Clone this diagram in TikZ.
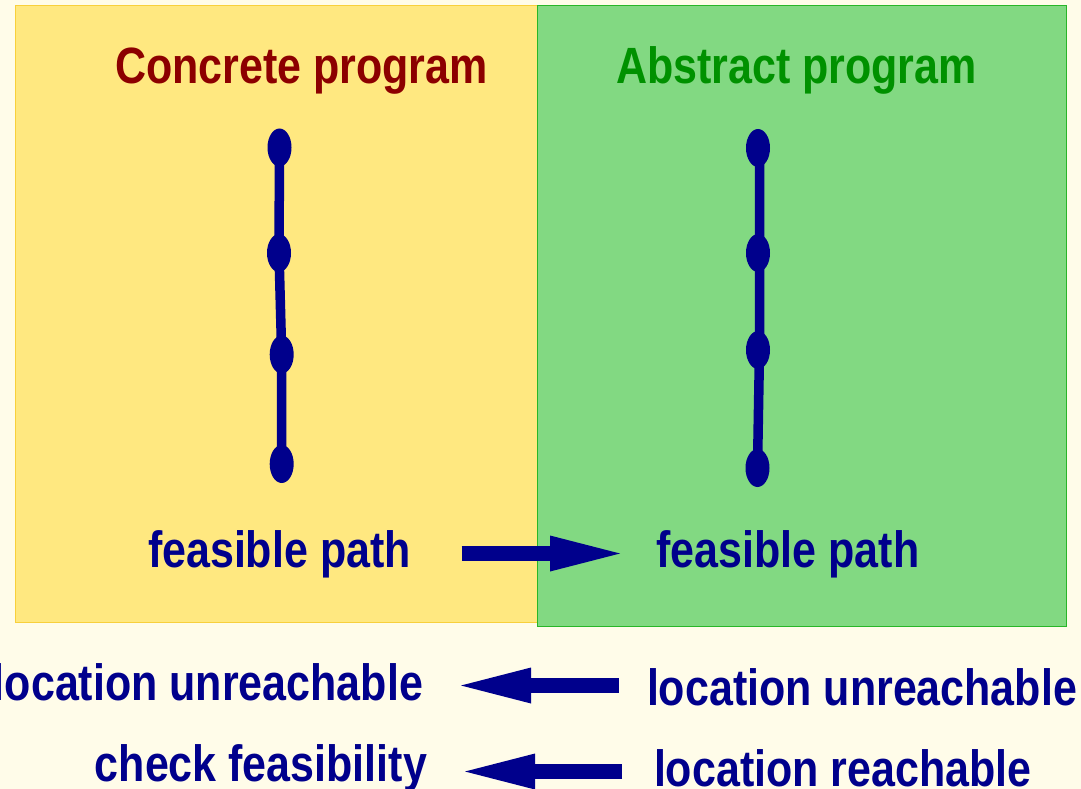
\documentclass[tikz,border=0pt]{standalone}
\usepackage{fontspec}
\newfontfamily\hv{Liberation Sans}[FakeStretch=0.843]
\usetikzlibrary{shapes.geometric,arrows.meta}
\definecolor{bgcream}{RGB}{255,252,233}
\definecolor{yfill}{RGB}{255,232,128}
\definecolor{yline}{RGB}{248,208,60}
\definecolor{gfill}{RGB}{130,217,130}
\definecolor{gline}{RGB}{40,182,40}
\definecolor{dred}{RGB}{140,0,0}
\definecolor{dgreen}{RGB}{0,145,0}
\definecolor{navy}{RGB}{0,0,140}
\begin{document}
\begin{tikzpicture}[x=1pt,y=-1pt,
  lbl/.style={inner sep=0pt, outer sep=0pt, font=\hv\bfseries\fontsize{51}{60}\selectfont},
  dot/.style={ellipse, fill=navy, minimum width=24pt, minimum height=38pt, inner sep=0pt},
  chainline/.style={draw=navy, line width=9.5pt},
  bigarrow/.style={navy, line width=15.5pt, -{Triangle[length=70pt,width=36pt,line width=0pt]}}]
\useasboundingbox (0,0) rectangle (1081,789);
\fill[bgcream] (0,0) rectangle (1081,789);
% panels
\draw[yline, fill=yfill, line width=1pt] (15.5,5.5) rectangle (538,622.5);
\draw[gline, fill=gfill, line width=1.3pt] (537.5,5.5) rectangle (1066.5,626.5);
% titles
\node[lbl, text=dred, anchor=base west] (ctitle) at (115,84) {Concrete program};
\node[lbl, text=dgreen, anchor=base west] (atitle) at (616,84) {Abstract program};
% concrete chain
\node[dot] (c1) at (279.5,147.5) {};
\node[dot] (c2) at (279,253) {};
\node[dot] (c3) at (281.7,354.5) {};
\node[dot] (c4) at (281.7,464) {};
\draw[chainline] (c1.center) -- (c2.center) -- (c3.center) -- (c4.center);
% abstract chain
\node[dot] (b1) at (758,148) {};
\node[dot] (b2) at (758,253) {};
\node[dot] (b3) at (758,350) {};
\node[dot] (b4) at (757.5,468) {};
\draw[chainline] ([xshift=1.5pt]b1.center) -- ([xshift=1.5pt]b2.center) -- ([xshift=1.5pt]b3.center) -- (b4.center);
% feasible path labels
\node[lbl, text=navy, anchor=base west] (fp1) at (148,567) {feasible path};
\node[lbl, text=navy, anchor=base west] (fp2) at (656.5,567) {feasible path};
% bottom labels
\node[lbl, text=navy, anchor=base east] (lu1) at (423,700) {location unreachable};
\node[lbl, text=navy, anchor=base east] (cf) at (427,781.5) {check feasibility};
\node[lbl, text=navy, anchor=base west] (lu2) at (647,705.5) {location unreachable};
\node[lbl, text=navy, anchor=base west] (lr) at (654,786.5) {location reachable};
% arrows
\coordinate (a1s) at (461.5,553.5);
\coordinate (a1e) at (620,553.5);
\coordinate (a2s) at (618.5,685.5);
\coordinate (a2e) at (461,685.5);
\coordinate (a3s) at (622,771.5);
\coordinate (a3e) at (465,771.5);
\draw[bigarrow] (a1s) -- (a1e);
\draw[bigarrow] (a2s) -- (a2e);
\draw[bigarrow] (a3s) -- (a3e);
\end{tikzpicture}
\end{document}
